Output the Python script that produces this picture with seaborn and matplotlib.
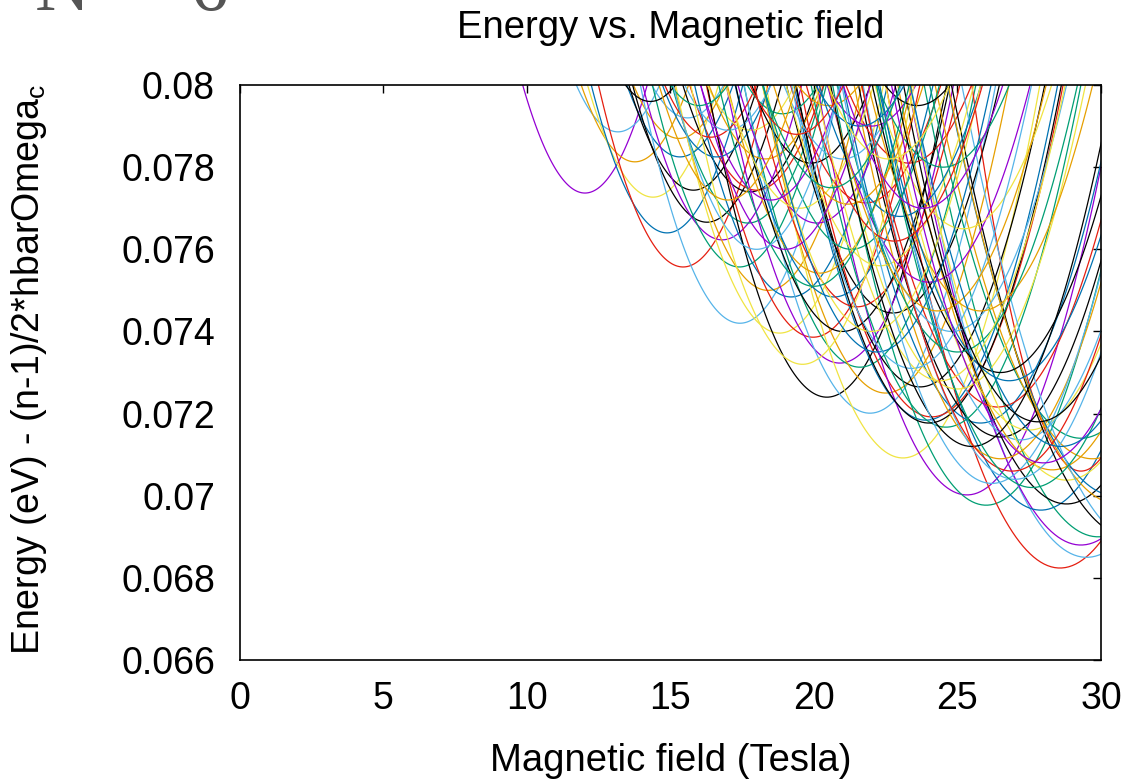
import matplotlib
matplotlib.use("Agg")
import matplotlib.pyplot as plt
import seaborn as sns

# Each level: field (Tesla) and energy (eV) of its minimum,
# and the half width = distance from the minimum to where it leaves the top frame
field_min = [
    12.02, 13.17, 13.76, 14.39, 14.88, 15.44, 15.30, 15.60, 15.33, 15.80,
    16.27, 16.80, 17.40, 17.42, 17.70, 17.77, 18.00, 18.40, 18.80, 19.20,
    19.97, 20.45, 20.90, 21.60, 21.95, 22.50, 22.75, 23.10, 23.70, 23.90,
    24.10, 25.33, 26.00, 28.57, 29.50, 29.30, 29.90, 27.90, 28.80, 25.80,
    26.50, 16.40, 16.60, 17.00, 17.80, 18.30, 19.90, 23.30, 21.80, 20.10,
    20.20, 20.70, 21.50, 21.00, 24.60, 24.00, 26.40, 27.50, 29.30, 29.70,
    27.20, 28.30, 28.80, 29.30, 26.50, 27.00, 25.00, 30.50, 31.00, 30.60,
    31.50, 18.90, 19.50, 20.50, 21.00, 21.30, 22.00, 22.30, 23.00, 23.60,
    24.00, 24.50, 24.80, 25.20, 25.80, 26.50, 19.00, 22.00, 25.00, 26.80,
    16.00, 18.50, 14.30, 19.60, 20.00, 21.20, 22.20, 22.80, 23.40, 24.30,
    24.40, 25.50, 26.20, 26.90, 27.60, 28.00, 28.60, 27.80, 18.00, 19.40,
    21.60, 22.60, 17.00, 23.80, 20.60,
]
energy_min = [
    0.07737, 0.07886, 0.07813, 0.07727, 0.07640, 0.07557, 0.07870, 0.07920, 0.07825, 0.07744,
    0.07666, 0.07623, 0.07557, 0.07420, 0.07664, 0.07740, 0.07744, 0.07500, 0.07396, 0.07484,
    0.07386, 0.07240, 0.07323, 0.07313, 0.07201, 0.07250, 0.07445, 0.07092, 0.07265, 0.07184,
    0.07192, 0.07002, 0.06977, 0.06824, 0.06850, 0.06880, 0.06900, 0.06965, 0.06980, 0.07177,
    0.07143, 0.07873, 0.07825, 0.07890, 0.07890, 0.07820, 0.07810, 0.07810, 0.07713, 0.07664,
    0.07542, 0.07484, 0.07460, 0.07400, 0.07167, 0.07177, 0.07216, 0.07160, 0.07140, 0.07090,
    0.07136, 0.07063, 0.07038, 0.07060, 0.07090, 0.07040, 0.07260, 0.07000, 0.06900, 0.06980,
    0.06880, 0.07930, 0.07700, 0.07950, 0.07820, 0.07600, 0.07900, 0.07560, 0.07680, 0.07950,
    0.07520, 0.07800, 0.07400, 0.07650, 0.07450, 0.07300, 0.07600, 0.07400, 0.07350, 0.07280,
    0.07950, 0.07720, 0.07960, 0.07320, 0.07510, 0.07710, 0.07350, 0.07620, 0.07310, 0.07450,
    0.07280, 0.07120, 0.07030, 0.07060, 0.07020, 0.07080, 0.07120, 0.07180, 0.07600, 0.07880,
    0.07900, 0.07820, 0.07720, 0.07700, 0.07750,
]
half_width = [
    2.17, 1.45, 1.87, 2.28, 2.64, 2.95, 1.59, 1.25, 1.85, 2.25,
    2.59, 2.77, 3.03, 3.47, 2.65, 2.34, 2.33, 3.27, 3.62, 3.36,
    3.72, 4.17, 3.96, 4.04, 4.38, 4.29, 3.71, 4.77, 4.34, 4.59,
    4.58, 5.22, 5.35, 6.06, 6.13, 6.02, 6.06, 5.61, 5.68, 4.78,
    4.95, 1.60, 1.88, 1.50, 1.52, 1.96, 2.07, 2.19, 2.62, 2.75,
    3.22, 3.45, 3.58, 3.73, 4.70, 4.62, 4.73, 5.01, 5.27, 5.48,
    5.04, 5.38, 5.52, 3.80, 5.10, 5.29, 4.46, 5.85, 6.21, 5.93,
    6.35, 1.23, 2.58, 1.07, 2.05, 3.07, 1.55, 3.27, 2.82, 1.13,
    3.53, 2.30, 4.00, 3.08, 3.91, 4.47, 2.95, 3.80, 4.18, 4.57,
    1.00, 2.45, 0.87, 3.89, 3.32, 2.61, 3.97, 3.07, 4.18, 3.79,
    4.35, 4.92, 5.23, 5.23, 5.42, 5.30, 5.25, 4.98, 2.91, 1.63,
    1.54, 2.11, 2.40, 2.78, 2.40,
]
level_color = [
    "P", "L", "O", "Y", "B", "R", "O", "L", "B", "K",
    "K", "P", "G", "L", "G", "K", "R", "O", "Y", "B",
    "R", "K", "P", "G", "L", "O", "K", "Y", "K", "B",
    "R", "P", "G", "R", "L", "P", "G", "B", "K", "B",
    "K", "R", "B", "L", "Y", "O", "K", "R", "R", "P",
    "O", "B", "R", "K", "G", "K", "R", "Y", "G", "O",
    "L", "O", "Y", "R", "O", "L", "Y", "B", "K", "O",
    "L", "G", "Y", "O", "L", "G", "P", "Y", "B", "K",
    "P", "G", "L", "Y", "O", "K", "P", "Y", "G", "B",
    "G", "P", "K", "Y", "G", "O", "B", "R", "L", "O",
    "Y", "K", "L", "R", "G", "P", "B", "K", "L", "R",
    "B", "Y", "O", "P", "G",
]

# gnuplot default line colours
palette = {
    "P": "#9400D3",
    "G": "#009E73",
    "L": "#56B4E9",
    "O": "#E69F00",
    "Y": "#F0E442",
    "B": "#0072B2",
    "R": "#E51E10",
    "K": "#000000",
}

x_ticks = [0, 5, 10, 15, 20, 25, 30]
y_ticks = [0.066, 0.068, 0.070, 0.072, 0.074, 0.076, 0.078, 0.080]
y_tick_labels = ["0.066", "0.068", "0.07", "0.072", "0.074", "0.076", "0.078", "0.08"]
energy_top = 0.08

sns.set_style("white")
plt.rcParams["font.family"] = ["Liberation Sans", "DejaVu Sans"]
plt.rcParams["mathtext.default"] = "regular"
plt.rcParams["text.color"] = "black"
plt.rcParams["axes.labelcolor"] = "black"
plt.rcParams["xtick.color"] = "black"
plt.rcParams["ytick.color"] = "black"

fig = plt.figure(figsize=(11.32, 7.8), dpi=100)
ax = fig.add_axes([0.2120, 0.1538, 0.7606, 0.7372])

# one parabola per level, fitted by seaborn through the three read points
for fm, em, hw, c in zip(field_min, energy_min, half_width, level_color):
    sns.regplot(
        x=[fm - hw, fm, fm + hw],
        y=[energy_top, em, energy_top],
        order=2,
        ci=None,
        scatter=False,
        truncate=True,
        line_kws={"color": palette[c], "lw": 0.9},
        ax=ax,
    )

ax.set_xlim(0, 30)
ax.set_ylim(0.066, 0.08)
ax.set_xticks(x_ticks)
ax.set_yticks(y_ticks)
ax.set_yticklabels(y_tick_labels)
ax.tick_params(direction="in", top=True, right=True, length=6, width=1,
               labelsize=27, color="black")
ax.tick_params(axis="y", pad=18)
ax.tick_params(axis="x", pad=15)
for sp in ax.spines.values():
    sp.set_color("black")
    sp.set_linewidth(1.2)

ax.set_title("Energy vs. Magnetic field", fontsize=27.5, pad=34)
ax.set_xlabel("Magnetic field (Tesla)", fontsize=27.5)
ax.set_ylabel("Energy (eV) - (n-1)/2*hbarOmega$_c$", fontsize=27)
ax.xaxis.set_label_coords(0.5, -0.145)
ax.yaxis.set_label_coords(-0.222, 0.505)

# slide heading cut off at the top edge
fig.text(0.031, 0.987, "N =  6", fontsize=55, family=["Liberation Serif", "DejaVu Serif"],
         color="#555555", va="baseline")

fig.savefig("out.png", dpi=100)
